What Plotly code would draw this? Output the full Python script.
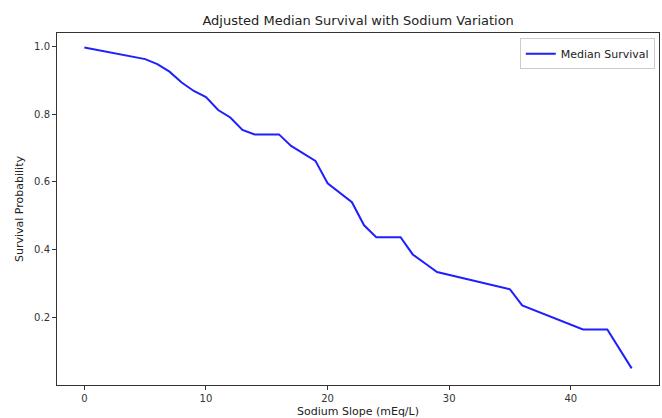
import plotly.graph_objects as go

sodium_slope = [0, 1, 2, 3, 4, 5, 6, 7, 8, 9, 10, 11, 12, 13, 14, 16, 17, 18, 19,
                20, 21, 22, 23, 24, 26, 27, 28, 29, 35, 36, 41, 43, 45]
median_survival = [0.996, 0.989, 0.981, 0.976, 0.967, 0.962, 0.947, 0.925, 0.893,
                   0.868, 0.850, 0.812, 0.790, 0.753, 0.740, 0.740, 0.706, 0.685,
                   0.662, 0.596, 0.569, 0.540, 0.472, 0.437, 0.437, 0.386, 0.360,
                   0.334, 0.283, 0.236, 0.165, 0.165, 0.050]
x_ticks = [0, 10, 20, 30, 40]
y_ticks = [0.2, 0.4, 0.6, 0.8, 1.0]
y_tick_labels = ["0.2", "0.4", "0.6", "0.8", "1.0"]

fig = go.Figure()
fig.add_trace(go.Scatter(
    x=sodium_slope, y=median_survival, mode="lines", name="Median Survival",
    line=dict(color="#1f1fff", width=2),
))

axis_common = dict(
    showgrid=False, zeroline=False, showline=True, linecolor="#333333", linewidth=1,
    mirror=True, ticks="outside", ticklen=4, tickwidth=1, tickcolor="#333333",
    tickfont=dict(family="DejaVu Sans", size=10, color="#333333"),
)

fig.update_layout(
    width=662, height=418,
    margin=dict(l=57, r=3, t=33, b=33),
    paper_bgcolor="white", plot_bgcolor="white",
    font=dict(family="DejaVu Sans", color="#222222"),
    title=dict(text="Adjusted Median Survival with Sodium Variation",
               font=dict(family="DejaVu Sans", size=13, color="#222222"),
               x=0.541, xanchor="center", y=0.952, yanchor="middle"),
    xaxis=dict(range=[-2.25, 47.25], tickvals=x_ticks,
               title=dict(text="Sodium Slope (mEq/L)", standoff=4,
                          font=dict(family="DejaVu Sans", size=11, color="#222222")),
               **axis_common),
    yaxis=dict(range=[0.001, 1.039], tickvals=y_ticks, ticktext=y_tick_labels,
               title=dict(text="Survival Probability", standoff=8,
                          font=dict(family="DejaVu Sans", size=11, color="#222222")),
               **axis_common),
    showlegend=True,
    legend=dict(x=0.993, xanchor="right", y=0.985, yanchor="top",
                bordercolor="#cccccc", borderwidth=1, bgcolor="white",
                font=dict(family="DejaVu Sans", size=11, color="#222222")),
)

fig.write_html("out.html", config={"displayModeBar": False},
               post_script="document.body.style.margin='0';document.body.style.padding='0';")
